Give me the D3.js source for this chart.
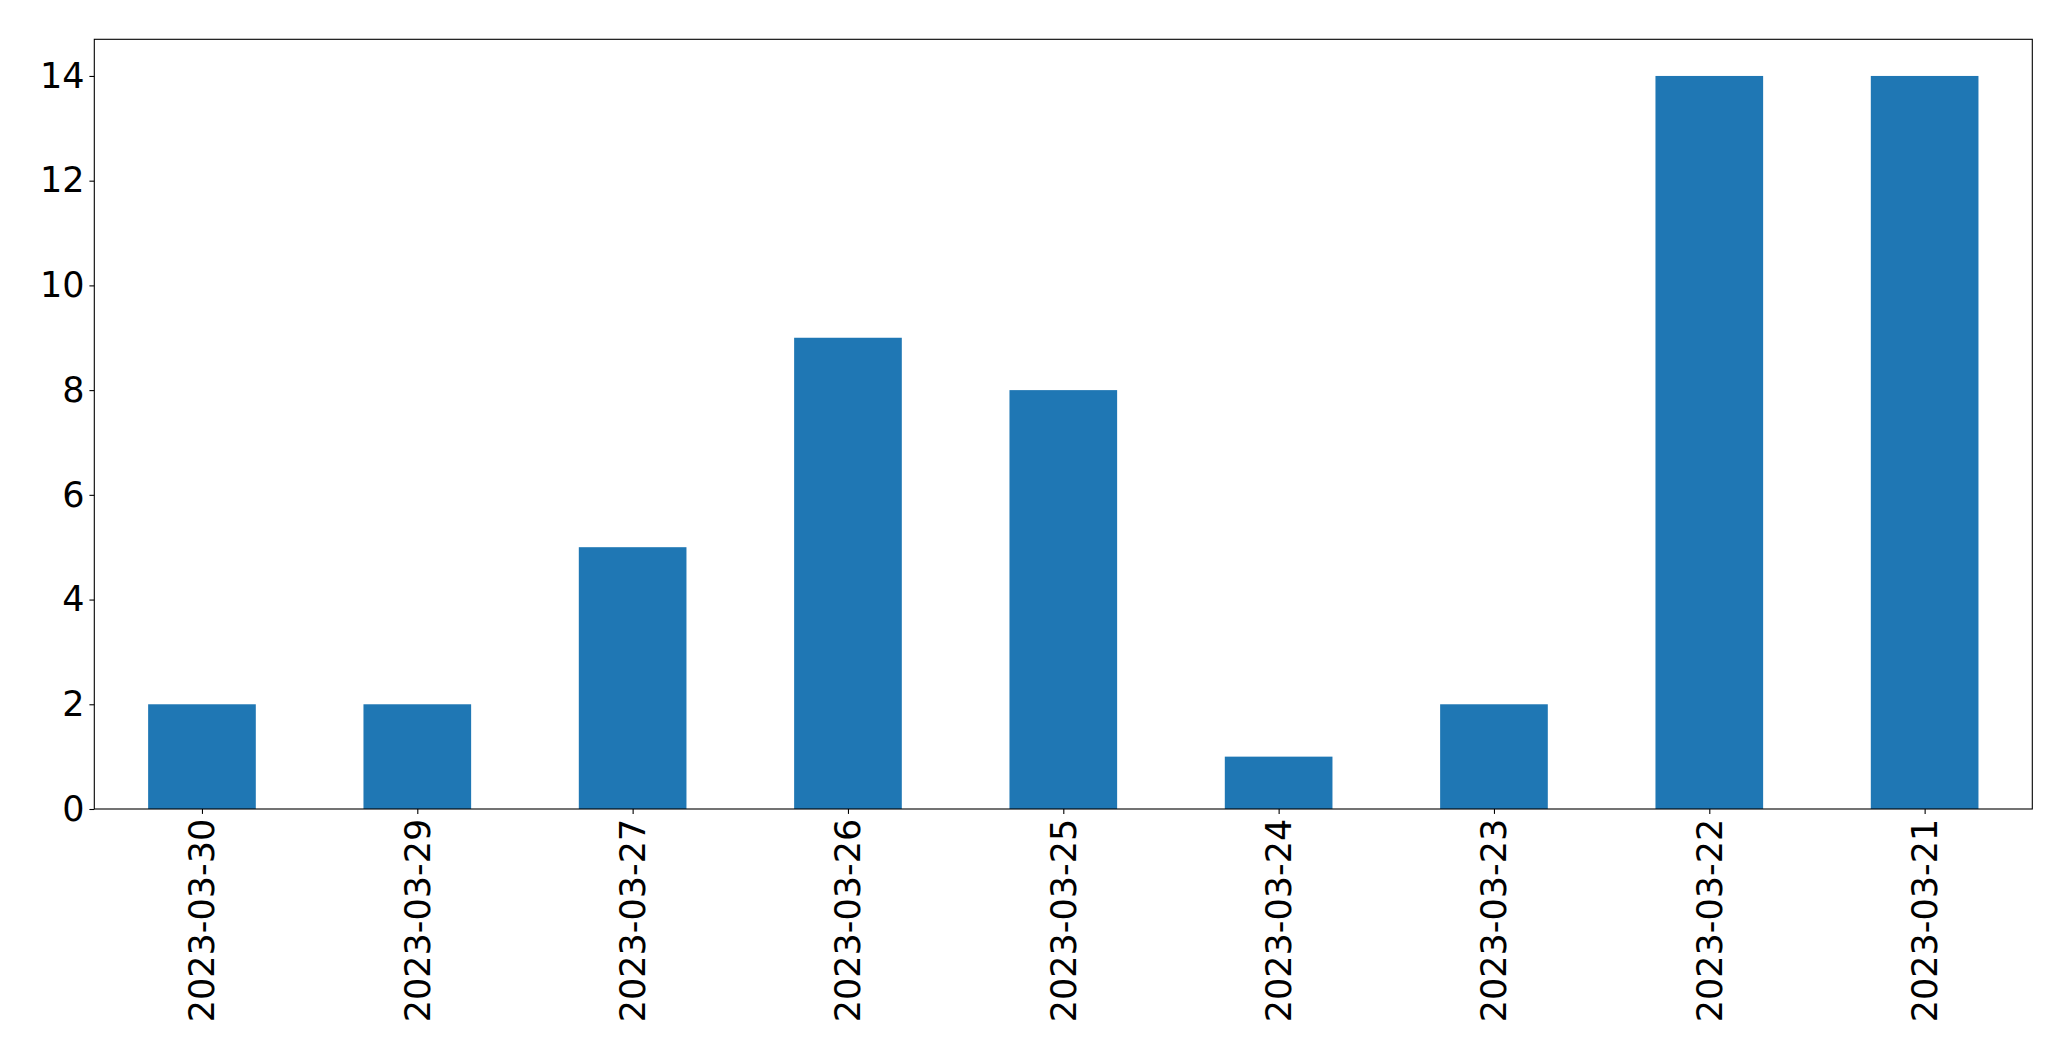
<!DOCTYPE html>
<html>
<head>
<meta charset="utf-8">
<script src="https://cdn.jsdelivr.net/npm/d3@7"></script>
<style>
  html, body { margin: 0; padding: 0; background: #fff; }
  svg { display: block; }
  text { font-family: "DejaVu Sans", sans-serif; }
</style>
</head>
<body>
<svg id="chart" width="2071" height="1061"></svg>
<script>
const categories = ["2023-03-30", "2023-03-29", "2023-03-27", "2023-03-26", "2023-03-25", "2023-03-24", "2023-03-23", "2023-03-22", "2023-03-21"];
const values = [2, 2, 5, 9, 8, 1, 2, 14, 14];
const yTicks = [0, 2, 4, 6, 8, 10, 12, 14];

const W = 2071, H = 1061;
const margin = { left: 94.3, right: W - 2032.3, top: 39.3, bottom: H - 809 };
const iw = W - margin.left - margin.right;
const ih = H - margin.top - margin.bottom;

const svg = d3.select("#chart");
const g = svg.append("g").attr("transform", `translate(${margin.left},${margin.top})`);

const x = d3.scaleLinear().domain([-0.5, categories.length - 0.5]).range([0, iw]);
const y = d3.scaleLinear().domain([0, 14.7]).range([ih, 0]);
const barW = 0.5;

g.selectAll("rect.bar").data(values).enter().append("rect")
  .attr("class", "bar")
  .attr("x", (d, i) => x(i - barW / 2))
  .attr("width", (d, i) => x(i + barW / 2) - x(i - barW / 2))
  .attr("y", d => y(d))
  .attr("height", d => y(0) - y(d))
  .attr("fill", "#1f77b4");

const fs = 35;
const yAxis = d3.axisLeft(y).tickValues(yTicks).tickFormat(d3.format("d")).tickSize(4.9).tickPadding(4.9);
const ya = g.append("g").call(yAxis);
ya.select(".domain").remove();
ya.selectAll("line").attr("stroke", "#000").attr("stroke-width", 1.1);
ya.selectAll("text").attr("font-size", fs).attr("fill", "#000").attr("font-family", "DejaVu Sans, sans-serif");

const xAxis = d3.axisBottom(x).tickValues(d3.range(categories.length)).tickFormat(i => categories[i]).tickSize(4.9).tickPadding(4.9);
const xa = g.append("g").attr("transform", `translate(0,${ih})`).call(xAxis);
xa.select(".domain").remove();
xa.selectAll("line").attr("stroke", "#000").attr("stroke-width", 1.1);
xa.selectAll("text")
  .attr("font-size", fs).attr("fill", "#000").attr("font-family", "DejaVu Sans, sans-serif")
  .attr("transform", null)
  .attr("y", 0).attr("dy", null)
  .attr("x", 0)
  .attr("text-anchor", "end")
  .attr("dominant-baseline", "central")
  .attr("transform", "translate(0,9.8) rotate(-90)");

g.append("rect").attr("x", 0).attr("y", 0).attr("width", iw).attr("height", ih)
  .attr("fill", "none").attr("stroke", "#000").attr("stroke-width", 1.1);
</script>
</body>
</html>
